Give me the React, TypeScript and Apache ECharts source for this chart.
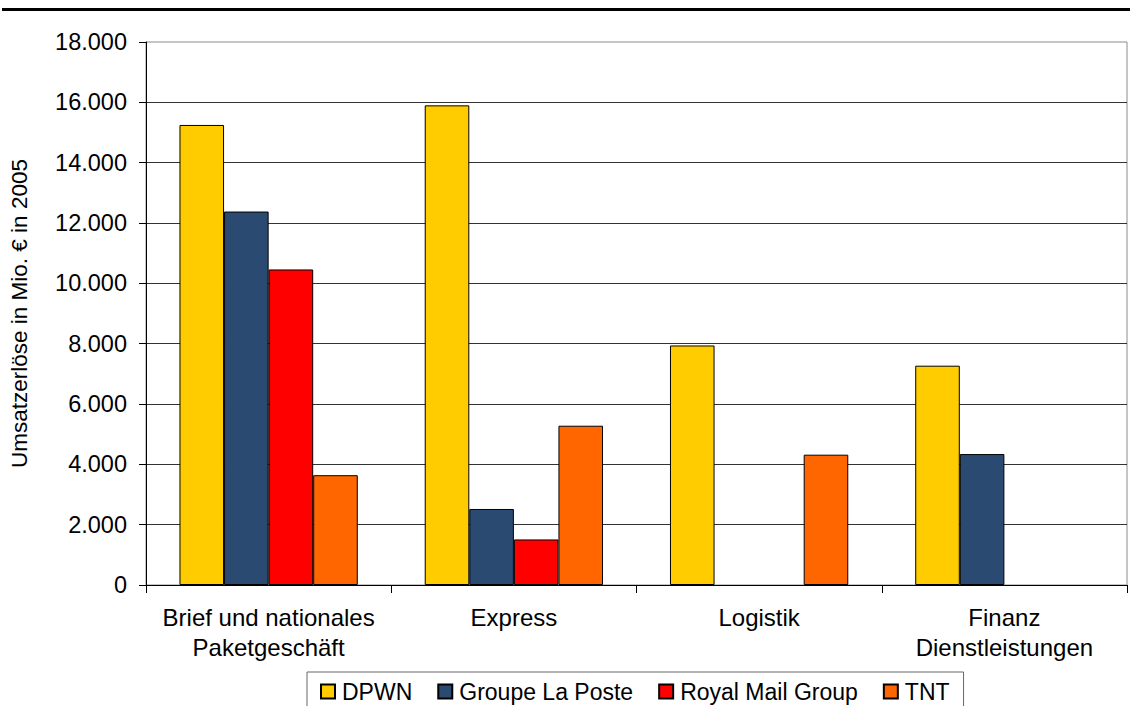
import React, { useEffect, useRef } from "react";
import * as echarts from "echarts";

const categories = [
  "Brief und nationales\nPaketgeschäft",
  "Express",
  "Logistik",
  "Finanz\nDienstleistungen",
];
const seriesNames = ["DPWN", "Groupe La Poste", "Royal Mail Group", "TNT"];
const dpwn = [15250, 15900, 7940, 7270];
const laPoste = [12380, 2520, null, 4340];
const royalMail = [10460, 1510, null, null];
const tnt = [3640, 5280, 4320, null];
const colors = ["#FFCC00", "#2B4A72", "#FF0000", "#FF6600"];
const yMax = 18000;
const yInterval = 2000;

const FONT = "'Liberation Sans', Arial, sans-serif";

function fmt(v: number): string {
  return String(Math.round(v)).replace(/\B(?=(\d{3})+(?!\d))/g, ".");
}

export default function App() {
  const ref = useRef<HTMLDivElement>(null);
  useEffect(() => {
    if (!ref.current) return;
    const chart = echarts.init(ref.current, undefined, { renderer: "svg" });
    const values = [dpwn, laPoste, royalMail, tnt];
    chart.setOption({
      animation: false,
      backgroundColor: "#ffffff",
      textStyle: { fontFamily: FONT },
      graphic: [
        {
          type: "rect",
          shape: { x: 2, y: 8, width: 1128, height: 3 },
          style: { fill: "#000000" },
          silent: true,
        },
      ],
      grid: {
        left: 137,
        right: 3,
        top: 42,
        bottom: 121,
        show: true,
        borderColor: "#8c8c8c",
        borderWidth: 1,
        backgroundColor: "#ffffff",
      },
      legend: {
        data: seriesNames,
        left: 307,
        top: 672,
        orient: "horizontal",
        padding: [8, 14, 8, 13],
        borderColor: "#666666",
        borderWidth: 1,
        itemWidth: 14,
        itemHeight: 14,
        itemGap: 25,
        icon: "rect",
        textStyle: {
          fontFamily: FONT,
          fontSize: 23,
          color: "#000000",
          padding: [0, 0, 0, 2],
        },
      },
      xAxis: {
        type: "category",
        data: categories,
        axisLine: { show: true, lineStyle: { color: "#000000", width: 1 } },
        axisTick: { show: true, length: 8, lineStyle: { color: "#000000" } },
        axisLabel: {
          fontFamily: FONT,
          fontSize: 24,
          color: "#000000",
          lineHeight: 30,
          margin: 17,
          interval: 0,
        },
        splitLine: { show: false },
      },
      yAxis: {
        type: "value",
        min: 0,
        max: yMax,
        interval: yInterval,
        name: "Umsatzerlöse in Mio. € in 2005",
        nameLocation: "middle",
        nameRotate: 90,
        nameGap: 115,
        nameTextStyle: { fontFamily: FONT, fontSize: 22.5, color: "#000000" },
        axisLine: { show: true, lineStyle: { color: "#000000", width: 1 } },
        axisTick: { show: true, length: 7, lineStyle: { color: "#000000" } },
        axisLabel: {
          fontFamily: FONT,
          fontSize: 23.5,
          color: "#000000",
          margin: 19,
          formatter: (v: number) => fmt(v),
        },
        splitLine: {
          show: true,
          showMaxLine: false,
          lineStyle: { color: "#333333", width: 1 },
        },
      },
      series: seriesNames.map((name, i) => ({
        name,
        type: "bar",
        data: values[i],
        barGap: "0%",
        barCategoryGap: "27.3%",
        itemStyle: { color: colors[i], borderColor: "#000000", borderWidth: 1 },
      })),
    });
    return () => chart.dispose();
  }, []);
  return (
    <div
      ref={ref}
      style={{ position: "fixed", left: 0, top: 0, width: 1130, height: 706 }}
    />
  );
}
